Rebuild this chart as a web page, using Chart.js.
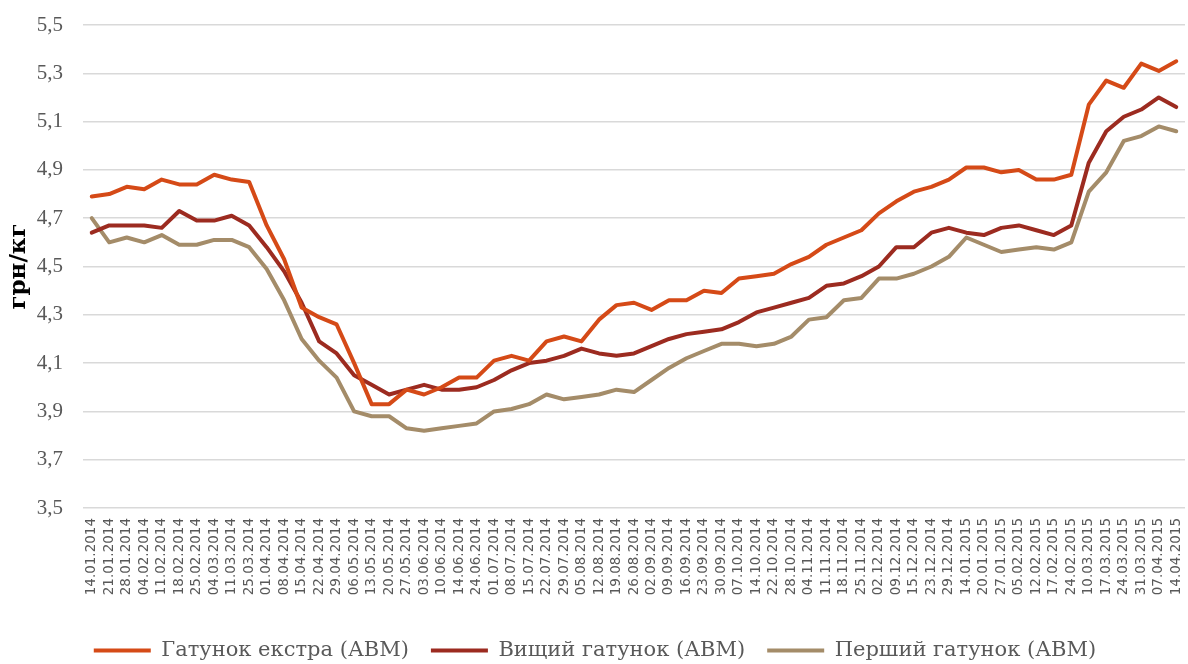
<!DOCTYPE html>
<html>
<head>
<meta charset="utf-8">
<script src="https://cdn.jsdelivr.net/npm/chart.js@4.4.1/dist/chart.umd.min.js"></script>
<style>
  html, body { margin: 0; padding: 0; background: #ffffff; }
  #wrap { width: 1188px; height: 664px; position: relative; }
</style>
</head>
<body>
<div id="wrap"><canvas id="c" width="1188" height="664"></canvas></div>
<script>
const categories = [
  "14.01.2014","21.01.2014","28.01.2014","04.02.2014","11.02.2014","18.02.2014","25.02.2014","04.03.2014","11.03.2014","25.03.2014",
  "01.04.2014","08.04.2014","15.04.2014","22.04.2014","29.04.2014","06.05.2014","13.05.2014","20.05.2014","27.05.2014","03.06.2014",
  "10.06.2014","14.06.2014","24.06.2014","01.07.2014","08.07.2014","15.07.2014","22.07.2014","29.07.2014","05.08.2014","12.08.2014",
  "19.08.2014","26.08.2014","02.09.2014","09.09.2014","16.09.2014","23.09.2014","30.09.2014","07.10.2014","14.10.2014","22.10.2014",
  "28.10.2014","04.11.2014","11.11.2014","18.11.2014","25.11.2014","02.12.2014","09.12.2014","15.12.2014","23.12.2014","29.12.2014",
  "14.01.2015","20.01.2015","27.01.2015","05.02.2015","12.02.2015","17.02.2015","24.02.2015","10.03.2015","17.03.2015","24.03.2015",
  "31.03.2015","07.04.2015","14.04.2015"
];

const seriesNames = ["Гатунок екстра (АВМ)", "Вищий гатунок (АВМ)", "Перший гатунок (АВМ)"];

const extraGrade = [
  4.79,4.80,4.83,4.82,4.86,4.84,4.84,4.88,4.86,4.85,
  4.67,4.53,4.33,4.29,4.26,4.10,3.93,3.93,3.99,3.97,
  4.00,4.04,4.04,4.11,4.13,4.11,4.19,4.21,4.19,4.28,
  4.34,4.35,4.32,4.36,4.36,4.40,4.39,4.45,4.46,4.47,
  4.51,4.54,4.59,4.62,4.65,4.72,4.77,4.81,4.83,4.86,
  4.91,4.91,4.89,4.90,4.86,4.86,4.88,5.17,5.27,5.24,
  5.34,5.31,5.35
];

const highestGrade = [
  4.64,4.67,4.67,4.67,4.66,4.73,4.69,4.69,4.71,4.67,
  4.58,4.48,4.35,4.19,4.14,4.05,4.01,3.97,3.99,4.01,
  3.99,3.99,4.00,4.03,4.07,4.10,4.11,4.13,4.16,4.14,
  4.13,4.14,4.17,4.20,4.22,4.23,4.24,4.27,4.31,4.33,
  4.35,4.37,4.42,4.43,4.46,4.50,4.58,4.58,4.64,4.66,
  4.64,4.63,4.66,4.67,4.65,4.63,4.67,4.93,5.06,5.12,
  5.15,5.20,5.16
];

const firstGrade = [
  4.70,4.60,4.62,4.60,4.63,4.59,4.59,4.61,4.61,4.58,
  4.49,4.36,4.20,4.11,4.04,3.90,3.88,3.88,3.83,3.82,
  3.83,3.84,3.85,3.90,3.91,3.93,3.97,3.95,3.96,3.97,
  3.99,3.98,4.03,4.08,4.12,4.15,4.18,4.18,4.17,4.18,
  4.21,4.28,4.29,4.36,4.37,4.45,4.45,4.47,4.50,4.54,
  4.62,4.59,4.56,4.57,4.58,4.57,4.60,4.81,4.89,5.02,
  5.04,5.08,5.06
];

const yTicks = [3.5,3.7,3.9,4.1,4.3,4.5,4.7,4.9,5.1,5.3,5.5];
const seriesColors = ["#D54A17", "#9C2B20", "#A48C69"];

function ds(label, data, color) {
  return {
    label: label,
    data: data,
    borderColor: color,
    backgroundColor: color,
    borderWidth: 4,
    borderCapStyle: 'round',
    borderJoinStyle: 'round',
    pointRadius: 0,
    pointHoverRadius: 0,
    tension: 0,
    fill: false
  };
}

new Chart(document.getElementById('c'), {
  type: 'line',
  data: {
    labels: categories,
    datasets: [
      ds(seriesNames[0], extraGrade, seriesColors[0]),
      ds(seriesNames[1], highestGrade, seriesColors[1]),
      ds(seriesNames[2], firstGrade, seriesColors[2])
    ]
  },
  options: {
    responsive: false,
    animation: false,
    devicePixelRatio: 1,
    layout: { padding: { top: 25, right: 3, bottom: 0, left: 5 } },
    plugins: {
      legend: {
        position: 'bottom',
        maxHeight: 46,
        labels: {
          usePointStyle: true,
          pointStyle: 'line',
          pointStyleWidth: 57,
          boxHeight: 21,
          padding: 22,
          color: '#595959',
          font: { family: 'DejaVu Serif', size: 21 }
        }
      },
      tooltip: { enabled: false }
    },
    scales: {
      x: {
        type: 'category',
        offset: true,
        grid: { display: false, drawTicks: false },
        border: { display: false },
        afterFit: function (axis) {
          axis.height = 110;
          axis.paddingLeft = 0;
          axis.paddingRight = 0;
        },
        ticks: {
          autoSkip: false,
          maxRotation: 90,
          minRotation: 90,
          padding: 10,
          color: '#595959',
          font: { family: 'DejaVu Sans', size: 13.5 }
        }
      },
      y: {
        min: 3.5,
        max: 5.5,
        afterBuildTicks: function (axis) {
          axis.ticks = yTicks.map(v => ({ value: v }));
        },
        afterFit: function (axis) {
          axis.width = 78;
          axis.paddingTop = 0;
          axis.paddingBottom = 0;
        },
        grid: { color: '#d9d9d9', lineWidth: 1.5, drawTicks: false },
        border: { display: false },
        ticks: {
          padding: 20,
          color: '#595959',
          font: { family: 'Liberation Serif', size: 21 },
          callback: function (v) { return Number(v).toFixed(1).replace('.', ','); }
        },
        title: {
          display: true,
          text: 'грн/кг',
          color: '#000000',
          padding: { top: 0, bottom: 0 },
          font: { family: 'DejaVu Serif', size: 23, weight: 'bold' }
        }
      }
    }
  }
});
</script>
</body>
</html>
